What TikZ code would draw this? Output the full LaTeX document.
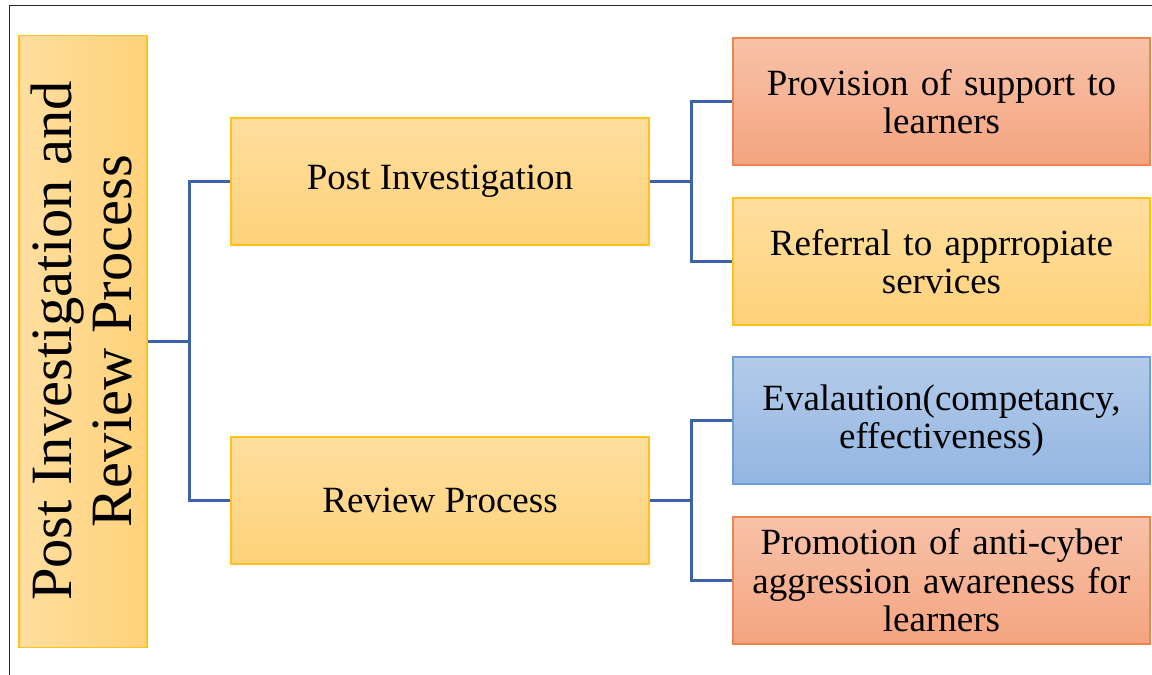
\documentclass[tikz,border=0pt]{standalone}
\usepackage{fontspec}
\setmainfont{Liberation Serif}
\definecolor{ylTop}{HTML}{FFDE9E}
\definecolor{ylBot}{HTML}{FFD27A}
\definecolor{ylLine}{HTML}{FFC21A}
\definecolor{orTop}{HTML}{F8C2A8}
\definecolor{orBot}{HTML}{F4A480}
\definecolor{orLine}{HTML}{EE8550}
\definecolor{blTop}{HTML}{B4CBEA}
\definecolor{blBot}{HTML}{93B6E2}
\definecolor{blLine}{HTML}{6E9EDA}
\definecolor{conn}{HTML}{3C62AC}
\tikzset{
  box/.style={rectangle, line width=1.3pt, inner sep=0pt, align=center,
    font=\fontsize{37}{38.5}\selectfont},
  ybox/.style={box, draw=ylLine, top color=ylTop, bottom color=ylBot},
  obox/.style={box, draw=orLine, top color=orTop, bottom color=orBot},
  bbox/.style={box, draw=blLine, top color=blTop, bottom color=blBot},
  midbox/.style={minimum width=418pt, minimum height=127pt},
  rbox/.style={minimum width=417pt, minimum height=127pt, text width=405pt},
  link/.style={draw=conn, line width=2.4pt},
}
\begin{document}
\begin{tikzpicture}[x=1pt,y=-1pt]
\useasboundingbox (0,0) rectangle (1152,675);
% frame
\draw[line width=1.5pt, black!85] (1152,5.5) -- (9.5,5.5) -- (9.5,675);
% root
\node[box, draw=ylLine, left color=ylTop, right color=ylBot,
      minimum width=128pt, minimum height=612pt] (root) at (83,341.5) {};
\node[rotate=90, align=center, font=\fontsize{58.5}{60}\selectfont] (roottext) at (81,341)
  {Post Investigation and\\Review Process};
% middle
\node[ybox, midbox] (pi) at (440,181.5) {\raisebox{-3pt}{Post Investigation}};
\node[ybox, midbox] (rp) at (440,500.5) {Review Process};
% right
\node[obox, rbox] (r1) at (941.5,101.5) {Provision of support to\\learners};
\node[ybox, rbox] (r2) at (941.5,261.5) {Referral to apprropiate\\services};
\node[bbox, rbox] (r3) at (941.5,420.5) {Evalaution(competancy,\\effectiveness)};
\node[obox, rbox] (r4) at (941.5,580.5) {Promotion of anti-cyber\\aggression awareness for\\learners};
% connectors
\coordinate (j0) at ([xshift=42pt]root.east);
\coordinate (j1) at ([xshift=42pt]pi.east);
\coordinate (j2) at ([xshift=42pt]rp.east);
\draw[link] (root.east) -- (j0);
\draw[link] (j0) |- (pi.west);
\draw[link] (j0) |- (rp.west);
\draw[link] (pi.east) -- (j1);
\draw[link] (j1) |- (r1.west);
\draw[link] (j1) |- (r2.west);
\draw[link] (rp.east) -- (j2);
\draw[link] (j2) |- (r3.west);
\draw[link] (j2) |- (r4.west);
\end{tikzpicture}
\end{document}
